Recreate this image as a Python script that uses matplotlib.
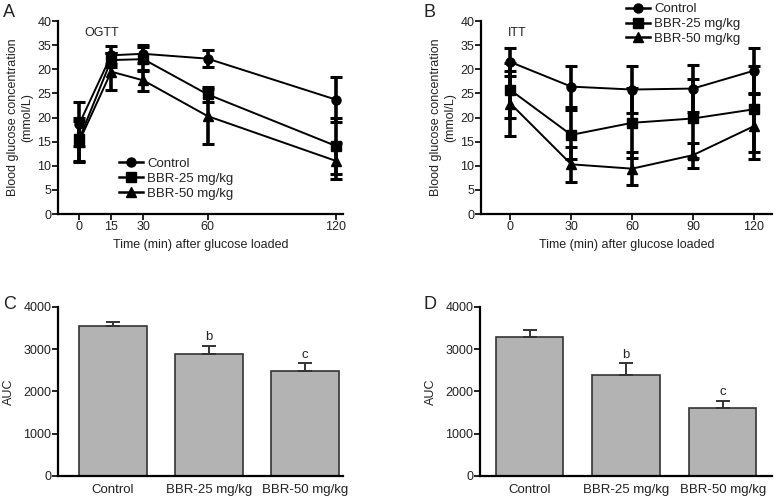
import numpy as np
import matplotlib
matplotlib.use('Agg')
import matplotlib.pyplot as plt
from matplotlib.lines import Line2D

plt.rcParams['font.family'] = ['Liberation Sans', 'DejaVu Sans']

groups = ['Control', 'BBR-25 mg/kg', 'BBR-50 mg/kg']
markers = ['o', 's', '^']

# OGTT (panel A)
ogtt_t = [0, 15, 30, 60, 120]
ogtt_mean = [[18.6, 32.9, 33.2, 32.2, 23.7],
             [15.5, 31.9, 32.1, 24.8, 14.1],
             [15.0, 29.5, 27.7, 20.3, 11.0]]
ogtt_sd = [[4.6, 1.9, 1.9, 1.8, 4.6],
           [4.5, 1.5, 2.5, 1.5, 5.9],
           [4.3, 3.8, 2.2, 5.7, 3.8]]

# ITT (panel B)
itt_t = [0, 30, 60, 90, 120]
itt_mean = [[31.5, 26.4, 25.8, 26.0, 29.7],
            [25.7, 16.4, 18.9, 19.8, 21.7],
            [22.9, 10.3, 9.4, 12.2, 18.2]]
itt_sd = [[2.9, 4.3, 4.9, 4.8, 4.8],
          [5.7, 5.1, 7.2, 8.1, 8.9],
          [6.7, 3.6, 3.4, 2.6, 6.9]]

# AUC (panels C, D)
auc_ogtt = [3551, 2883, 2474]
auc_ogtt_err = [95, 196, 189]
auc_itt = [3277, 2379, 1614]
auc_itt_err = [173, 284, 165]
auc_marks = ['', 'b', 'c']

yticks = [0, 5, 10, 15, 20, 25, 30, 35, 40]
ytick_labels = ['0', '5', '10', '15', '20', '25', '20', '35', '40']

fig = plt.figure(figsize=(7.84, 4.99), dpi=100)
axA = fig.add_axes([0.0744, 0.5711, 0.3635, 0.3868])
axB = fig.add_axes([0.614, 0.5711, 0.3708, 0.3868])
axC = fig.add_axes([0.0744, 0.0461, 0.3635, 0.3393])
axD = fig.add_axes([0.6126, 0.0461, 0.372, 0.3393])


def style(ax):
    for s in ['top', 'right']:
        ax.spines[s].set_visible(False)
    for s in ['left', 'bottom']:
        ax.spines[s].set_linewidth(1.6)
    ax.tick_params(direction='out', length=4, width=1.4, labelsize=9, pad=1, colors='#222222')


def line_panel(ax, t, means, sds, xlim, title):
    for i in range(3):
        ax.errorbar(t, means[i], yerr=sds[i], color='black', lw=1.4,
                    marker=markers[i], markersize=6.5, elinewidth=2.6,
                    capsize=4.5, capthick=2.2)
    style(ax)
    ax.set_xlim(*xlim)
    ax.set_ylim(0, 40)
    ax.set_xticks(t)
    ax.set_yticks(yticks)
    ax.set_yticklabels(ytick_labels)
    ax.set_xlabel('Time (min) after glucose loaded', fontsize=9, labelpad=4, color='#222222')
    ax.set_ylabel('Blood glucose concentration\n(mmol/L)', fontsize=9, labelpad=3, color='#222222')
    ax.text(0.09, 0.97, title, transform=ax.transAxes, fontsize=9, va='top', color='#222222')


def add_legend(ax, anchor):
    handles = [Line2D([], [], color='black', lw=1.8, marker=m, markersize=6.5) for m in markers]
    ax.legend(handles, groups, loc='upper left', bbox_to_anchor=anchor, frameon=False,
              fontsize=9.5, handlelength=1.8, handletextpad=0.3, labelspacing=0.2,
              borderaxespad=0, labelcolor='#222222')


line_panel(axA, ogtt_t, ogtt_mean, ogtt_sd, (-9.7, 123.4), 'OGTT')
add_legend(axA, (0.195, 0.32))

line_panel(axB, itt_t, itt_mean, itt_sd, (-14.3, 129), 'ITT')
add_legend(axB, (0.48, 1.12))


def bar_panel(ax, vals, errs, xlim):
    x = np.arange(len(groups))
    ax.bar(x, vals, width=0.7, color='#b3b3b3', edgecolor='#333333', linewidth=1.2)
    ax.errorbar(x, vals, yerr=[np.zeros(len(vals)), errs], fmt='none',
                ecolor='#333333', elinewidth=1.4, capsize=5, capthick=1.4)
    for i in range(len(vals)):
        if auc_marks[i]:
            ax.text(x[i], vals[i] + errs[i] + 60, auc_marks[i], ha='center',
                    va='bottom', fontsize=9.5, color='#222222')
    style(ax)
    ax.set_xlim(*xlim)
    ax.set_ylim(0, 4000)
    ax.set_yticks([0, 1000, 2000, 3000, 4000])
    ax.set_xticks(x)
    ax.set_xticklabels(groups, fontsize=9.5)
    ax.tick_params(axis='x', length=0, pad=6)
    ax.set_ylabel('AUC', fontsize=9, labelpad=6, color='#222222')


bar_panel(axC, auc_ogtt, auc_ogtt_err, (-0.57, 2.40))
bar_panel(axD, auc_itt, auc_itt_err, (-0.51, 2.51))

fig.text(0.004, 0.975, 'A', fontsize=13, va='center', color='#222222')
fig.text(0.54, 0.975, 'B', fontsize=13, va='center', color='#222222')
fig.text(0.004, 0.39, 'C', fontsize=13, va='center', color='#222222')
fig.text(0.54, 0.39, 'D', fontsize=13, va='center', color='#222222')

fig.savefig('out.png', dpi=100)
